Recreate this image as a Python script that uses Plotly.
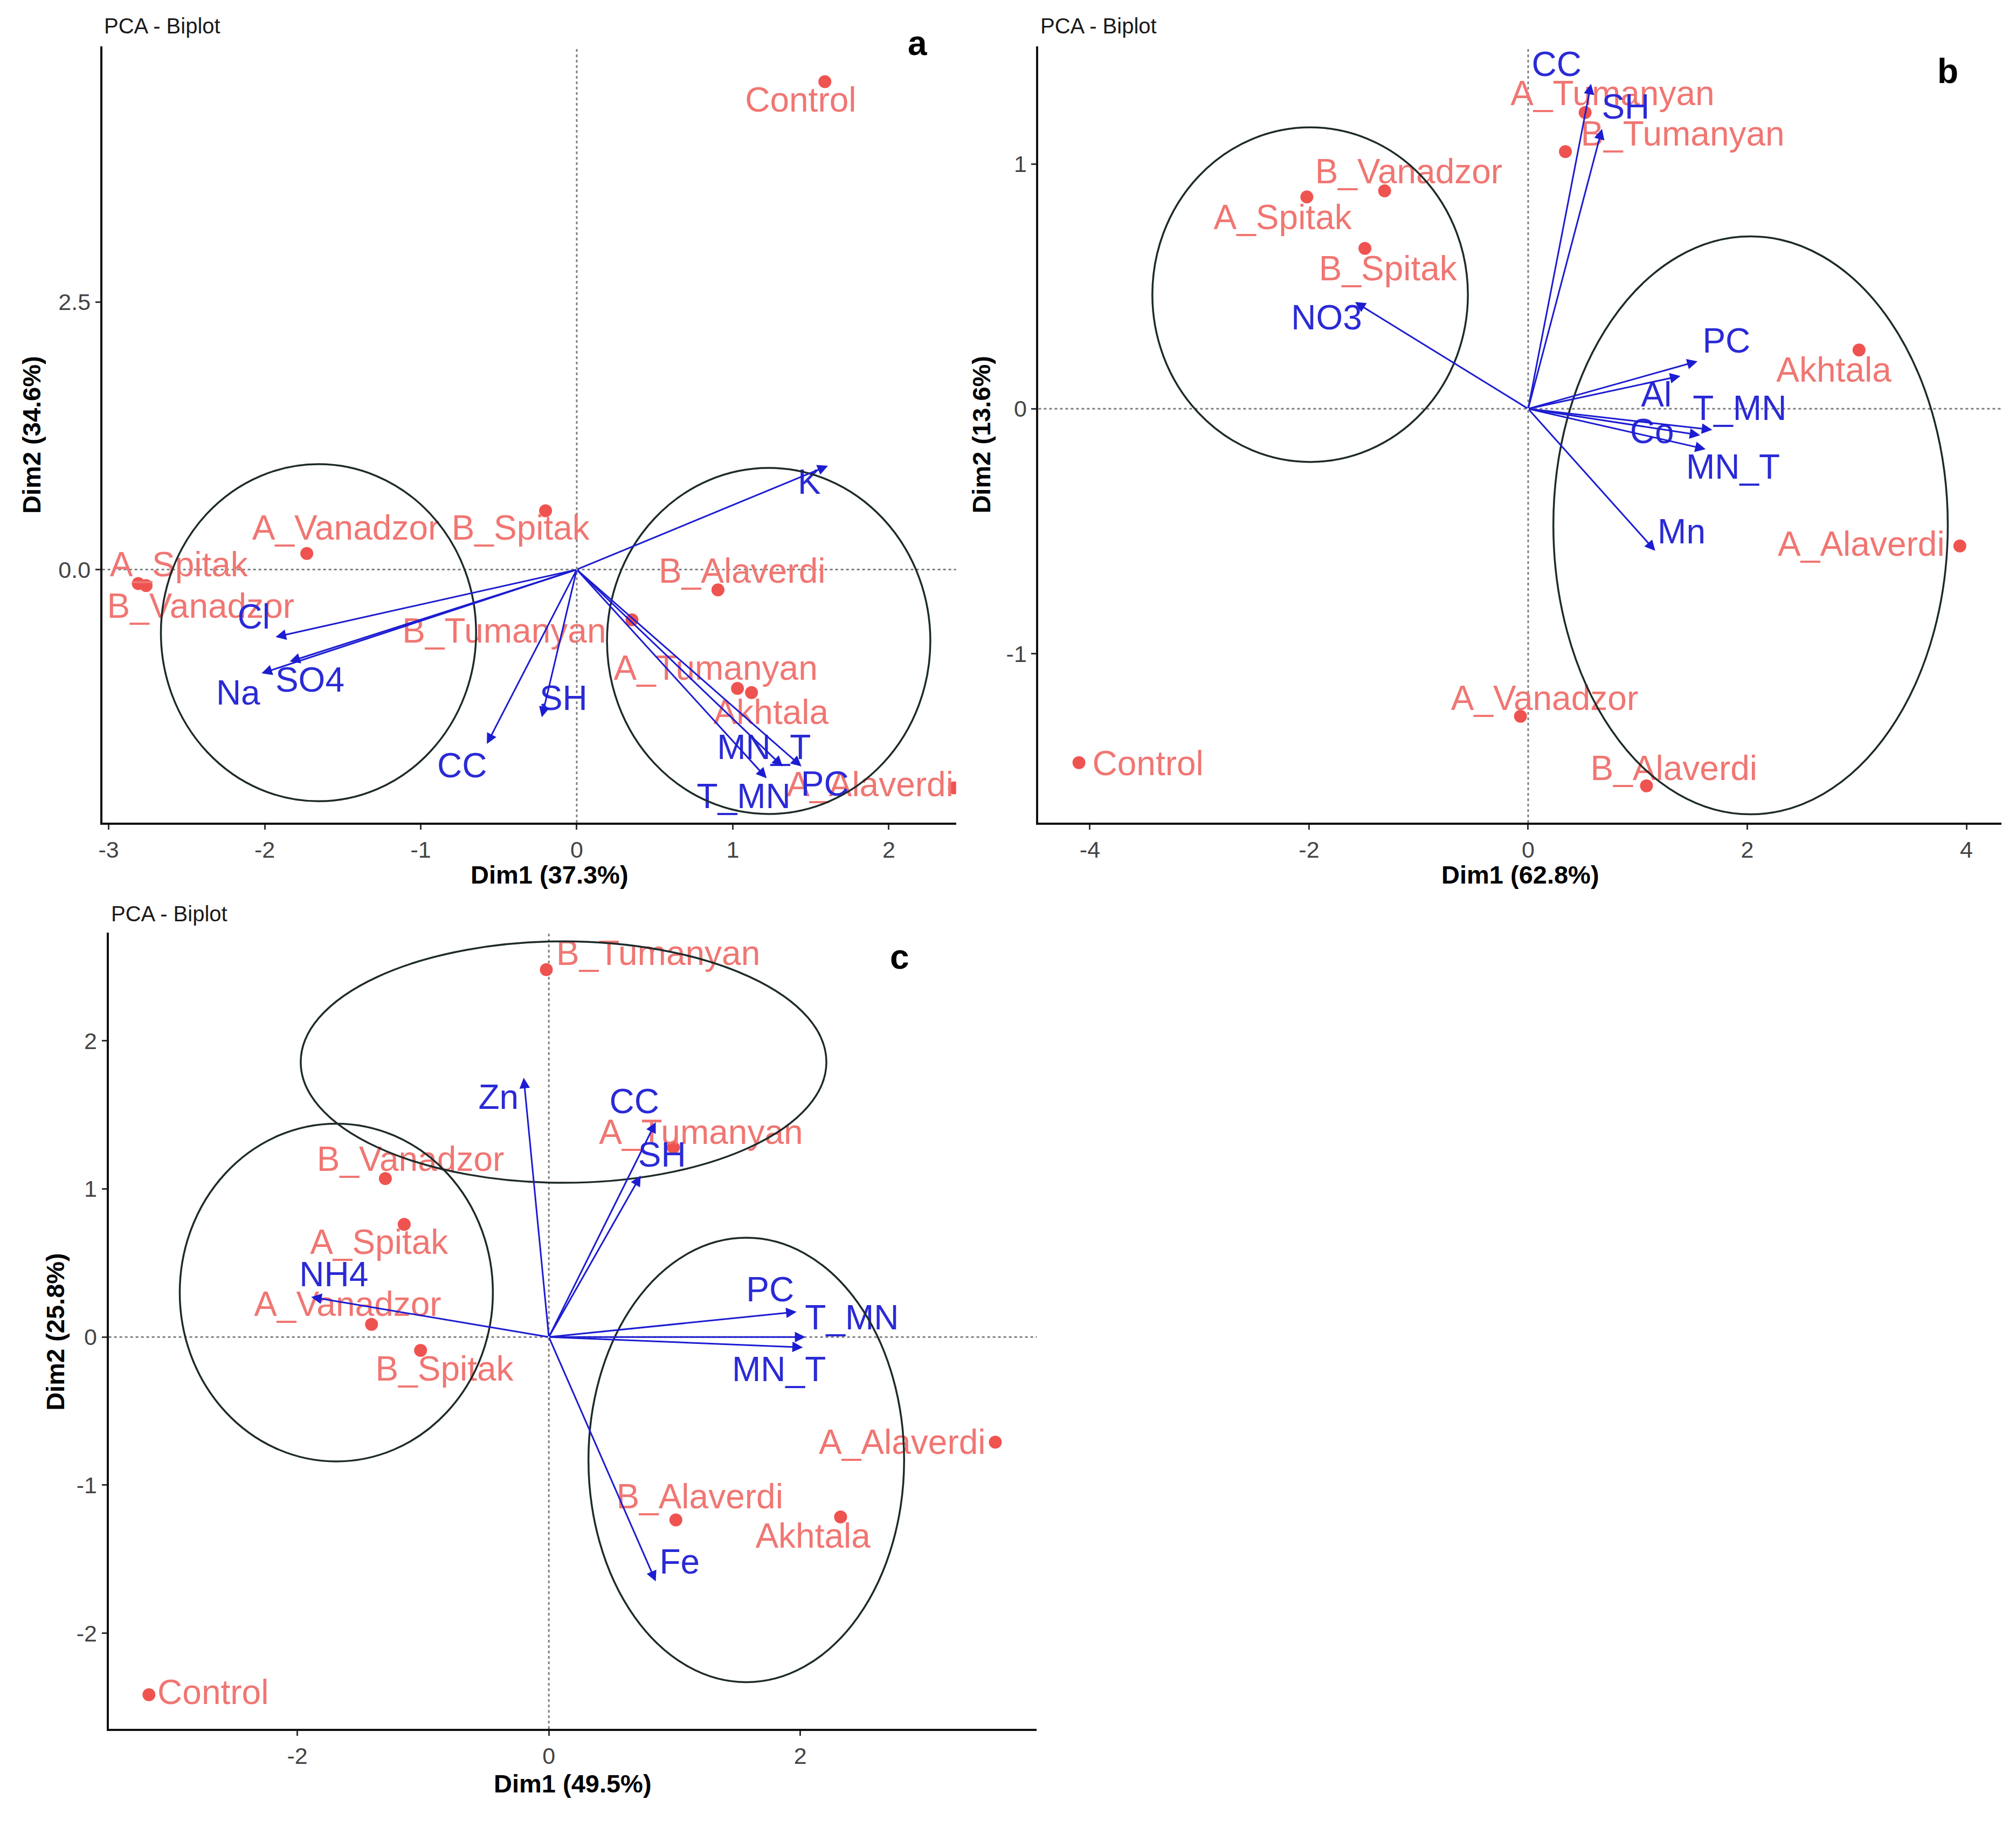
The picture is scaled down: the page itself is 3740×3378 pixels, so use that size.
import plotly.graph_objects as go

W, H = 3740, 3378
FONT = "Liberation Sans, Arial, sans-serif"
RED_PT = "#EF5350"
RED_TX = "#F07672"
BLUE = "#1C1CD2"
BLUE_TX = "#2A2AD6"
ELL = "#1E2A2A"

# ---------------- Panel a ----------------
a_dims = ["Dim1 (37.3%)", "Dim2 (34.6%)"]
a_ind = ["Control", "B_Spitak", "A_Vanadzor", "A_Spitak", "B_Vanadzor", "B_Alaverdi",
         "B_Tumanyan", "A_Tumanyan", "Akhtala", "A_Alaverdi"]
a_ind_x = [1.59, -0.20, -1.73, -2.81, -2.76, 0.905, 0.354, 1.03, 1.12, 2.42]
a_ind_y = [4.56, 0.55, 0.15, -0.13, -0.15, -0.19, -0.47, -1.11, -1.15, -2.04]
a_lab_x = [1.435, -0.36, -1.48, -2.55, -2.41, 1.06, -0.465, 0.89, 1.245, 1.88]
a_lab_y = [4.36, 0.36, 0.36, 0.02, -0.37, -0.04, -0.60, -0.95, -1.36, -2.04]
a_var = ["K", "Cl", "Na", "SO4", "CC", "SH", "MN_T", "T_MN", "PC"]
a_var_x = [1.61, -1.93, -2.02, -1.84, -0.576, -0.224, 1.32, 1.217, 1.44]
a_var_y = [0.97, -0.63, -0.97, -0.86, -1.63, -1.38, -1.84, -1.95, -1.84]
a_vlab_x = [1.49, -2.07, -2.17, -1.71, -0.735, -0.085, 1.20, 1.07, 1.59]
a_vlab_y = [0.79, -0.47, -1.18, -1.06, -1.86, -1.23, -1.69, -2.15, -2.03]
a_ell = [(-1.655, -0.59, 1.01, 1.575), (1.23, -0.667, 1.036, 1.617)]
a_xticks = [-3, -2, -1, 0, 1, 2]
a_xticktext = ["-3", "-2", "-1", "0", "1", "2"]
a_yticks = [0.0, 2.5]
a_yticktext = ["0.0", "2.5"]

# ---------------- Panel b ----------------
b_dims = ["Dim1 (62.8%)", "Dim2 (13.6%)"]
b_ind = ["Control", "A_Vanadzor", "B_Alaverdi", "A_Alaverdi", "Akhtala", "B_Spitak",
         "A_Spitak", "B_Vanadzor", "B_Tumanyan", "A_Tumanyan"]
b_ind_x = [-4.10, -0.07, 1.08, 3.94, 3.02, -1.49, -2.02, -1.31, 0.34, 0.52]
b_ind_y = [-1.445, -1.256, -1.54, -0.56, 0.24, 0.655, 0.865, 0.89, 1.05, 1.21]
b_lab_x = [-3.47, 0.15, 1.33, 3.04, 2.79, -1.28, -2.24, -1.09, 1.41, 0.77]
b_lab_y = [-1.46, -1.195, -1.48, -0.565, 0.145, 0.56, 0.77, 0.955, 1.11, 1.275]
b_var = ["CC", "SH", "NO3", "PC", "Al", "T_MN", "Co", "MN_T", "Mn"]
b_var_x = [0.574, 0.674, -1.58, 1.546, 1.39, 1.68, 1.57, 1.62, 1.16]
b_var_y = [1.327, 1.143, 0.436, 0.194, 0.134, -0.086, -0.108, -0.165, -0.58]
b_vlab_x = [0.26, 0.89, -1.84, 1.81, 1.17, 1.93, 1.13, 1.87, 1.40]
b_vlab_y = [1.395, 1.22, 0.36, 0.265, 0.045, -0.01, -0.105, -0.25, -0.515]
b_ell = [(-1.99, 0.466, 1.44, 0.683), (2.03, -0.476, 1.80, 1.18)]
b_xticks = [-4, -2, 0, 2, 4]
b_xticktext = ["-4", "-2", "0", "2", "4"]
b_yticks = [-1, 0, 1]
b_yticktext = ["-1", "0", "1"]

# ---------------- Panel c ----------------
c_dims = ["Dim1 (49.5%)", "Dim2 (25.8%)"]
c_ind = ["Control", "B_Tumanyan", "B_Vanadzor", "A_Spitak", "A_Vanadzor", "B_Spitak",
         "A_Tumanyan", "A_Alaverdi", "Akhtala", "B_Alaverdi"]
c_ind_x = [-3.18, -0.02, -1.30, -1.15, -1.41, -1.02, 0.99, 3.55, 2.32, 1.01]
c_ind_y = [-2.415, 2.48, 1.07, 0.76, 0.085, -0.09, 1.28, -0.71, -1.215, -1.235]
c_lab_x = [-2.67, 0.87, -1.10, -1.35, -1.60, -0.83, 1.21, 2.81, 2.10, 1.20]
c_lab_y = [-2.42, 2.57, 1.18, 0.62, 0.20, -0.235, 1.36, -0.73, -1.365, -1.10]
c_var = ["Zn", "CC", "SH", "NH4", "PC", "T_MN", "MN_T", "Fe"]
c_var_x = [-0.20, 0.85, 0.73, -1.89, 1.97, 2.04, 2.02, 0.85]
c_var_y = [1.75, 1.45, 1.09, 0.27, 0.17, 0.0, -0.07, -1.65]
c_vlab_x = [-0.40, 0.68, 0.90, -1.71, 1.76, 2.41, 1.83, 1.04]
c_vlab_y = [1.60, 1.57, 1.21, 0.40, 0.30, 0.11, -0.24, -1.54]
c_ell = [(0.117, 1.856, 2.09, 0.815), (-1.69, 0.30, 1.245, 1.14), (1.57, -0.83, 1.255, 1.50)]
c_xticks = [-2, 0, 2]
c_xticktext = ["-2", "0", "2"]
c_yticks = [-2, -1, 0, 1, 2]
c_yticktext = ["-2", "-1", "0", "1", "2"]

# ---------------- layout geometry (pixels) ----------------
panels = [
    dict(key="a", ax="", px=(183, 1770), py=(86, 1526), xr=[-3.041, 2.431], yr=[-2.365, 4.89],
         ind=a_ind, ix=a_ind_x, iy=a_ind_y, lx=a_lab_x, ly=a_lab_y,
         var=a_var, vx=a_var_x, vy=a_var_y, vlx=a_vlab_x, vly=a_vlab_y, ell=a_ell,
         xt=a_xticks, xtt=a_xticktext, yt=a_yticks, ytt=a_yticktext, dims=a_dims,
         title_pos=(184, 48), letter_pos=(1698, 80), xlab_pos=(1014, 1622), ylab_pos=(52, 806)),
    dict(key="b", ax="2", px=(1923, 3713), py=(86, 1526), xr=[-4.47, 4.32], yr=[-1.69, 1.48],
         ind=b_ind, ix=b_ind_x, iy=b_ind_y, lx=b_lab_x, ly=b_lab_y,
         var=b_var, vx=b_var_x, vy=b_var_y, vlx=b_vlab_x, vly=b_vlab_y, ell=b_ell,
         xt=b_xticks, xtt=b_xticktext, yt=b_yticks, ytt=b_yticktext, dims=b_dims,
         title_pos=(1925, 48), letter_pos=(3613, 132), xlab_pos=(2819, 1622), ylab_pos=(1817, 806)),
    dict(key="c", ax="3", px=(195, 1920), py=(1730, 3207), xr=[-3.50, 3.88], yr=[-2.645, 2.73],
         ind=c_ind, ix=c_ind_x, iy=c_ind_y, lx=c_lab_x, ly=c_lab_y,
         var=c_var, vx=c_var_x, vy=c_var_y, vlx=c_vlab_x, vly=c_vlab_y, ell=c_ell,
         xt=c_xticks, xtt=c_xticktext, yt=c_yticks, ytt=c_yticktext, dims=c_dims,
         title_pos=(197, 1695), letter_pos=(1665, 1775), xlab_pos=(1057, 3308), ylab_pos=(95, 2470)),
]

fig = go.Figure()
shapes = []
annotations = []


def px2paper(x, y):
    return x / W, 1 - y / H


for p in panels:
    xa = "x" + p["ax"]
    ya = "y" + p["ax"]
    dom_x = [p["px"][0] / W, p["px"][1] / W]
    dom_y = [1 - p["py"][1] / H, 1 - p["py"][0] / H]
    axis_common = dict(showline=True, linecolor="#111111", linewidth=4, ticks="outside",
                       ticklen=9, tickwidth=3, tickcolor="#333333", showgrid=False,
                       zeroline=False, tickfont=dict(family=FONT, size=43, color="#444444"),
                       mirror=False, fixedrange=True)
    fig.update_layout(**{
        "xaxis" + p["ax"]: dict(domain=dom_x, range=p["xr"], anchor=ya, tickvals=p["xt"],
                                ticktext=p["xtt"], **axis_common),
        "yaxis" + p["ax"]: dict(domain=dom_y, range=p["yr"], anchor=xa, tickvals=p["yt"],
                                ticktext=p["ytt"], **axis_common),
    })

    # dashed reference lines
    shapes.append(dict(type="line", xref=xa + " domain", yref=ya, x0=0, x1=1, y0=0, y1=0,
                       line=dict(color="#808080", width=3, dash="5px,5px"), layer="below"))
    shapes.append(dict(type="line", xref=xa, yref=ya + " domain", x0=0, x1=0, y0=0, y1=1,
                       line=dict(color="#808080", width=3, dash="5px,5px"), layer="below"))

    # ellipses
    for (cx, cy, rx, ry) in p["ell"]:
        shapes.append(dict(type="circle", xref=xa, yref=ya, x0=cx - rx, x1=cx + rx,
                           y0=cy - ry, y1=cy + ry, line=dict(color=ELL, width=3.5),
                           layer="above"))

    # individuals
    fig.add_trace(go.Scatter(x=p["ix"], y=p["iy"], mode="markers", xaxis=xa, yaxis=ya,
                             marker=dict(size=24, color=RED_PT), showlegend=False,
                             hoverinfo="skip", cliponaxis=True))
    fig.add_trace(go.Scatter(x=p["lx"], y=p["ly"], mode="text", text=p["ind"], xaxis=xa,
                             yaxis=ya, textposition="middle center",
                             textfont=dict(family=FONT, size=64, color=RED_TX),
                             showlegend=False, hoverinfo="skip", cliponaxis=False))

    # variable arrows
    for vx, vy in zip(p["vx"], p["vy"]):
        annotations.append(dict(x=vx, y=vy, ax=0, ay=0, xref=xa, yref=ya, axref=xa, ayref=ya,
                                showarrow=True, arrowhead=2, arrowsize=1.3, arrowwidth=3,
                                arrowcolor=BLUE, text="", standoff=0, startstandoff=0))
    fig.add_trace(go.Scatter(x=p["vlx"], y=p["vly"], mode="text", text=p["var"], xaxis=xa,
                             yaxis=ya, textposition="middle center",
                             textfont=dict(family=FONT, size=64, color=BLUE_TX),
                             showlegend=False, hoverinfo="skip", cliponaxis=False))

    # texts
    tx, ty = px2paper(*p["title_pos"])
    annotations.append(dict(x=tx, y=ty, xref="paper", yref="paper", text="PCA - Biplot",
                            showarrow=False, xanchor="left", yanchor="middle",
                            font=dict(family=FONT, size=40, color="#1A1A1A")))
    lx_, ly_ = px2paper(*p["letter_pos"])
    annotations.append(dict(x=lx_, y=ly_, xref="paper", yref="paper",
                            text="<b>" + p["key"] + "</b>", showarrow=False,
                            xanchor="center", yanchor="middle",
                            font=dict(family=FONT, size=64, color="#000000")))
    xx, xy = px2paper(*p["xlab_pos"])
    annotations.append(dict(x=xx, y=xy, xref="paper", yref="paper",
                            text="<b>" + p["dims"][0] + "</b>", showarrow=False,
                            xanchor="center", yanchor="middle",
                            font=dict(family=FONT, size=47, color="#000000")))
    yx, yy = px2paper(*p["ylab_pos"])
    annotations.append(dict(x=yx, y=yy, xref="paper", yref="paper",
                            text="<b>" + p["dims"][1] + "</b>", showarrow=False,
                            xanchor="center", yanchor="middle", textangle=-90,
                            font=dict(family=FONT, size=47, color="#000000")))

fig.update_layout(width=W, height=H, margin=dict(l=0, r=0, t=0, b=0),
                  paper_bgcolor="white", plot_bgcolor="white",
                  shapes=shapes, annotations=annotations, showlegend=False)

fig.write_html("out.html", post_script="document.body.style.margin='0';",
               config={"displayModeBar": False})
